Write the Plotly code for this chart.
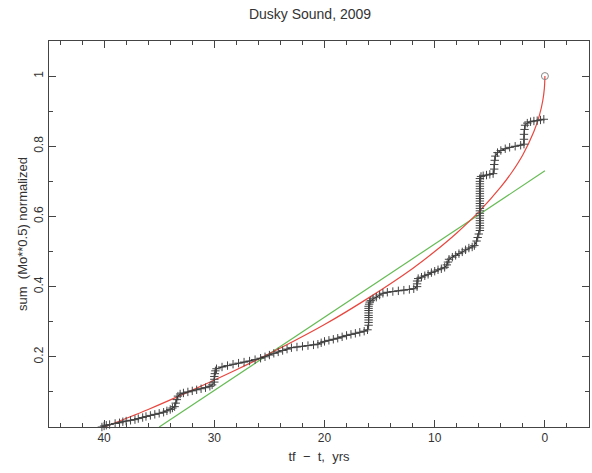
import plotly.graph_objects as go

# Observed cumulative data (tf - t in years, normalized cumulative sum of Mo**0.5)
obs_t = [40.2, 40.0, 39.8, 39.5, 39.0, 38.6, 38.3, 38.0, 37.6, 37.2, 36.9, 36.5, 36.2, 35.8, 35.4, 35.0,
         34.6, 34.3, 34.0, 33.8, 33.6,
         33.5, 33.4, 33.3, 33.1, 32.8, 32.4, 32.0, 31.6, 31.2, 30.8, 30.4, 30.2,
         30.0, 30.0, 30.0, 29.95, 29.9, 29.8,
         29.3, 28.8, 28.3, 27.8, 27.3, 26.8, 26.3, 25.8, 25.4, 25.0, 24.6, 24.2, 23.8, 23.4, 23.0,
         22.5, 22.0, 21.5, 21.0, 20.6, 20.3, 20.0, 19.6, 19.2, 18.8, 18.4, 18.0, 17.6, 17.2, 16.8,
         16.4, 16.1,
         16.0, 16.0, 16.0, 16.0, 16.0, 16.0, 16.0, 16.0, 16.0, 15.95, 15.9, 15.8, 15.6, 15.3, 15.0,
         14.7, 14.3, 13.8, 13.3, 12.8, 12.3, 11.9,
         11.6, 11.6, 11.6, 11.5, 11.2, 10.9, 10.6, 10.3, 10.0, 9.7, 9.4, 9.1,
         8.9, 8.8, 8.7, 8.4, 8.1, 7.8, 7.5, 7.2, 6.9, 6.6, 6.4, 6.2, 6.1, 6.0,
         5.9, 5.9, 5.9, 5.9, 5.9, 5.9, 5.9, 5.9, 5.9, 5.9, 5.9, 5.9, 5.9, 5.9, 5.9, 5.9, 5.9, 5.9,
         5.9, 5.9, 5.9, 5.9,
         5.8, 5.6, 5.3, 5.0, 4.7,
         4.6, 4.6, 4.55, 4.5, 4.3, 4.0, 3.6, 3.2, 2.7, 2.2, 1.9,
         1.9, 1.9, 1.85, 1.8, 1.6, 1.3, 1.0, 0.7, 0.4, 0.1]
obs_y = [0.000, 0.003, 0.005, 0.007, 0.010, 0.012, 0.015, 0.017, 0.019, 0.021, 0.024, 0.027, 0.030, 0.033, 0.036, 0.039,
         0.042, 0.046, 0.050, 0.054, 0.058,
         0.068, 0.078, 0.088, 0.094, 0.097, 0.100, 0.103, 0.106, 0.109, 0.112, 0.116, 0.120,
         0.128, 0.136, 0.144, 0.152, 0.160, 0.166,
         0.171, 0.175, 0.179, 0.182, 0.185, 0.188, 0.192, 0.196, 0.200, 0.205, 0.210, 0.214, 0.218, 0.222, 0.226,
         0.228, 0.230, 0.232, 0.234, 0.236, 0.240, 0.244, 0.247, 0.250, 0.253, 0.257, 0.261, 0.264, 0.267, 0.270,
         0.273, 0.277,
         0.290, 0.298, 0.305, 0.312, 0.318, 0.325, 0.332, 0.338, 0.344, 0.350, 0.356, 0.360, 0.365, 0.370, 0.376,
         0.381, 0.384, 0.386, 0.388, 0.390, 0.392, 0.394,
         0.400, 0.408, 0.416, 0.423, 0.427, 0.431, 0.435, 0.440, 0.444, 0.448, 0.451, 0.455,
         0.462, 0.470, 0.478, 0.484, 0.489, 0.494, 0.499, 0.505, 0.510, 0.513, 0.517, 0.530, 0.540, 0.550,
         0.560, 0.567, 0.574, 0.581, 0.588, 0.595, 0.602, 0.609, 0.616, 0.623, 0.630, 0.637, 0.644, 0.651, 0.658, 0.665, 0.672, 0.679,
         0.686, 0.693, 0.700, 0.708,
         0.714, 0.716, 0.718, 0.720, 0.722,
         0.735, 0.748, 0.760, 0.772, 0.782, 0.788, 0.793, 0.797, 0.800, 0.803, 0.806,
         0.820, 0.834, 0.848, 0.860, 0.866, 0.870, 0.872, 0.873, 0.875, 0.877]

# Red fitted curve
fit_t = [40, 36, 32, 28, 24, 20, 16, 12, 10, 8, 6, 4, 3, 2, 1, 0.5, 0.2, 0.05, 0]
fit_y = [0.0, 0.05, 0.105, 0.163, 0.225, 0.292, 0.368, 0.452, 0.50, 0.553, 0.613, 0.684, 0.726, 0.776, 0.842, 0.888, 0.929, 0.965, 1.0]

# Green linear trend
lin_t = [35.0, 0.0]
lin_y = [0.0, 0.73]

# Final point (open circle)
end_t = [0.0]
end_y = [1.0]

FONT = "Liberation Sans, Arial, sans-serif"
AXC = "#444444"
TXT = "#333333"
NB = "\u00a0"

fig = go.Figure()
fig.add_trace(go.Scatter(x=lin_t, y=lin_y, mode="lines",
                         line=dict(color="#66bb55", width=1.2), cliponaxis=False, showlegend=False))
fig.add_trace(go.Scatter(x=fit_t, y=fit_y, mode="lines", line_shape="spline",
                         line=dict(color="#e8473f", width=1.2), showlegend=False))
fig.add_trace(go.Scatter(x=obs_t, y=obs_y, mode="lines+markers",
                         line=dict(color="#111111", width=1),
                         marker=dict(symbol="cross-thin", size=6, line=dict(color="#444444", width=1)),
                         cliponaxis=False, showlegend=False))
fig.add_trace(go.Scatter(x=end_t, y=end_y, mode="markers",
                         marker=dict(symbol="circle-open", size=7, color="#888888", line=dict(width=1)),
                         showlegend=False))

fig.update_layout(
    width=592, height=473,
    margin=dict(l=49, r=3, t=41, b=46),
    paper_bgcolor="white", plot_bgcolor="white",
    font=dict(family=FONT, size=12, color=TXT),
    title=dict(text="Dusky Sound, 2009", x=310 / 592, xref="container", xanchor="center",
               y=1 - 14 / 473, yref="container", yanchor="middle",
               font=dict(family=FONT, size=14, color=TXT)),
    xaxis=dict(range=[45, -4], showgrid=False, zeroline=False,
               showline=True, linecolor=AXC, linewidth=1, mirror="ticks",
               ticks="inside", ticklen=7, tickcolor=AXC, tickwidth=1,
               tickmode="array", tickvals=[40, 30, 20, 10, 0], ticktext=["40", "30", "20", "10", "0"],
               minor=dict(ticks="inside", ticklen=4, tickcolor=AXC, dtick=2, tick0=0, showgrid=False),
               tickfont=dict(family=FONT, size=12, color=TXT),
               title=dict(text=f"tf{NB}{NB}\u2212{NB}{NB}t,{NB}{NB}yrs", standoff=7,
                          font=dict(family=FONT, size=13, color=TXT))),
    yaxis=dict(range=[0, 1.1], showgrid=False, zeroline=False,
               showline=True, linecolor=AXC, linewidth=1, mirror="ticks",
               ticks="inside", ticklen=7, tickcolor=AXC, tickwidth=1,
               tickmode="array", tickvals=[0.2, 0.4, 0.6, 0.8, 1.0], ticktext=["0.2", "0.4", "0.6", "0.8", "1"],
               minor=dict(ticks="inside", ticklen=4, tickcolor=AXC, dtick=0.1, tick0=0, showgrid=False),
               tickangle=-90,
               tickfont=dict(family=FONT, size=12, color=TXT),
               title=dict(text=f"sum{NB}{NB}(Mo**0.5){NB}normalized", standoff=1,
                          font=dict(family=FONT, size=13, color=TXT))),
)

fig.write_html("out.html")
